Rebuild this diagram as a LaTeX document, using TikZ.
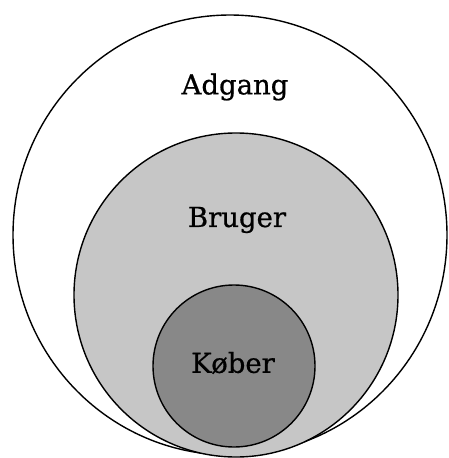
\documentclass[tikz,border=0pt]{standalone}
\usepackage{fontspec}
\setmainfont[FakeBold=0.7]{DejaVu Serif}
\usepackage{xcolor}
\usetikzlibrary{positioning}
\definecolor{brugergraa}{HTML}{C6C6C6}
\definecolor{kobergraa}{HTML}{888888}
\tikzset{
    ring/.style  = {draw=black, line width=1.4pt},
    etiket/.style = {font=\fontsize{27.5}{30}\selectfont, text=black, inner sep=0pt},
}

\begin{document}
\begin{tikzpicture}[x=1pt, y=-1pt]
        \useasboundingbox (0,0) rectangle (448,458);
        % de tre mængder
        \draw[ring, fill=white] (230,235) ellipse [x radius=217, y radius=220];
        \draw[ring, fill=brugergraa] (236,295) circle [radius=162];
        \draw[ring, fill=kobergraa] (234,366) circle [radius=81];
        % navne
        \node[etiket] (adgang) at (235,87) {Adgang};
        \node[etiket] (bruger) at (237,220) {Bruger};
        \node[etiket] (kober) at (233,363) {Køber};
    \end{tikzpicture}
\end{document}
